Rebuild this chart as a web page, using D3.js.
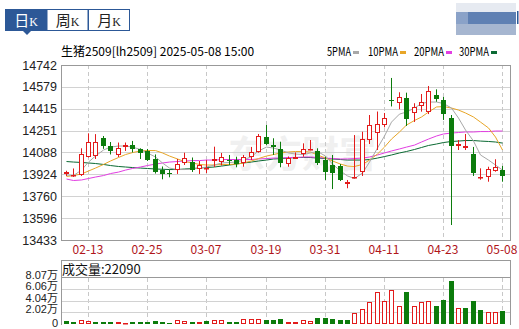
<!DOCTYPE html>
<html>
<head>
<meta charset="utf-8">
<script src="https://cdn.jsdelivr.net/npm/d3@7/dist/d3.min.js"></script>
<style>
  body { margin: 0; background: #fff; }
  svg { display: block; }
  text { font-family: "Noto Sans CJK SC", "DejaVu Sans", sans-serif; }
</style>
</head>
<body>
<svg id="chart" width="519" height="329"></svg>
<script>
// trading days shown on the chart
var dates = ["02-10","02-11","02-12","02-13","02-14","02-17","02-18","02-19","02-20","02-21","02-24","02-25","02-26","02-27","02-28",
  "03-03","03-04","03-05","03-06","03-07","03-10","03-11","03-12","03-13","03-14","03-17","03-18","03-19","03-20","03-21","03-24","03-25","03-26","03-27","03-28","03-31",
  "04-01","04-02","04-03","04-07","04-08","04-09","04-10","04-11","04-14","04-15","04-16","04-17","04-18","04-21","04-22","04-23","04-24","04-25","04-28","04-29","04-30",
  "05-06","05-07","05-08"];
var xLabels = ["02-13","02-25","03-07","03-19","03-31","04-11","04-23","05-08"];

var open  = [13924,13915,13919,14056,14061,14196,14136,14069,14129,14144,14110,14095,14039,13957,13934,13953,14007,14013,13962,13965,
  14024,14019,14035,14031,14007,14052,14093,14206,14141,14111,13999,14041,14076,14106,14096,14031,13994,13987,13850,13894,
  13942,14181,14231,14293,14480,14456,14493,14383,14433,14393,14518,14480,14343,14138,14121,14076,13894,13902,13951,13957];
var high  = [13951,13968,14119,14231,14225,14211,14166,14162,14162,14174,14119,14114,14073,13983,13960,14039,14086,14050,14024,14031,
  14131,14084,14069,14056,14069,14129,14226,14293,14194,14168,14058,14088,14156,14181,14119,14056,14069,14001,13882,14218,
  14243,14368,14394,14383,14645,14538,14535,14456,14525,14585,14560,14503,14368,14181,14226,14129,13969,13981,14037,13987];
var low   = [13912,13905,13912,14050,14039,14115,14073,14054,14099,14088,14039,14024,13930,13887,13902,13927,13994,13942,13927,13934,
  13979,13990,13994,13977,13981,14031,14086,14144,14069,13977,13981,14039,14056,14104,13994,13882,13814,13874,13820,13893,
  13912,14151,14106,14276,14432,14411,14286,14316,14393,14375,14467,14331,13545,14106,14106,13912,13884,13869,13944,13869];
var close = [13939,13920,14076,14164,14164,14138,14099,14121,14144,14114,14082,14035,13939,13927,13924,13998,14043,13957,13994,13970,
  14037,14054,14024,14001,14052,14089,14211,14151,14131,14007,14044,14052,14111,14116,14007,13944,13934,13882,13869,13902,
  14186,14293,14301,14343,14473,14505,14336,14430,14463,14550,14488,14373,14138,14149,14136,13936,13902,13962,13977,13914];
var prevClose0 = 13950;
var volume = [5700,4000,7500,5200,3500,4000,3500,3500,2300,3500,3500,3500,5700,4000,2300,7000,5700,3500,3500,4600,
  7500,7000,3500,3500,8000,8000,8000,7500,7500,9200,4000,4000,7500,5700,11000,11000,9200,6300,7500,19100,
  26100,37600,56200,40500,59600,31800,56200,31800,37600,40500,30600,42300,74100,28300,28300,40500,23700,21400,21400,22090];

var ma5  = [13919,13915,13956,14016,14061,14106,14128,14136,14136,14128,14110,14084,14054,14009,13971,13960,13960,13964,13971,13979,
  13994,14009,14013,14016,14031,14057,14099,14128,14121,14106,14084,14076,14072,14084,14095,14061,14001,13949,13912,13893,
  13934,14016,14121,14211,14315,14375,14390,14420,14454,14465,14465,14454,14420,14345,14256,14173,14069,14031,13994,13956];
var ma10 = [13908,13915,13927,13949,13971,13998,14024,14050,14072,14087,14099,14102,14102,14084,14061,14039,14020,14009,13998,13994,
  13994,13998,13998,14001,14009,14024,14042,14061,14072,14084,14091,14095,14095,14091,14069,14046,14024,14001,13986,13983,
  13998,14031,14076,14128,14188,14241,14293,14327,14353,14390,14428,14431,14420,14405,14383,14353,14315,14271,14203,14106];
var ma20 = [13889,13878,13882,13893,13904,13915,13930,13941,13956,13968,13979,13990,14001,14009,14016,14020,14024,14027,14027,14031,
  14031,14035,14035,14035,14035,14035,14039,14042,14046,14046,14050,14050,14054,14054,14050,14046,14042,14039,14039,14042,
  14046,14054,14069,14084,14099,14114,14128,14143,14166,14188,14211,14226,14233,14237,14241,14241,14244,14244,14248,14248];
var ma30 = [14020,14016,14013,14009,14005,13998,13990,13983,13979,13975,13971,13968,13964,13962,13960,13960,13964,13968,13971,13975,
  13979,13986,13994,14001,14009,14016,14024,14031,14039,14042,14046,14050,14050,14050,14046,14042,14039,14035,14031,14031,
  14031,14035,14046,14057,14069,14084,14095,14110,14125,14140,14151,14162,14170,14173,14177,14177,14173,14170,14166,14158];

var priceTicks = [13433,13596,13760,13924,14088,14251,14415,14579,14742];
var volTicks = [0,20200,40400,60600,80700];
var volTickLabels = ["0","2.02万","4.04万","6.06万","8.07万"];

var maNames = ["5PMA","10PMA","20PMA","30PMA"];
var maColors = ["#a8a8a8","#e8a628","#e23ee2","#0b6a33"];
var upColor = "#e21b1b", downColor = "#0c7c0c";

(function() {
var svg = d3.select("#chart");

// ----- tabs top left
var tabs = ["日","周","月"];
var tabG = svg.append("g");
tabs.forEach(function(t, i) {
	var x0 = 5 + i * 41.5;
	tabG.append("rect")
		.attr("x", x0 + 0.5).attr("y", 9.5).attr("width", 41).attr("height", 21)
		.attr("fill", i == 0 ? "#2c5897" : "#fff")
		.attr("stroke", "#2c5897");
	var tx = tabG.append("text")
		.attr("x", x0 + 21).attr("y", 25.5)
		.attr("text-anchor", "middle")
		.attr("fill", i == 0 ? "#fff" : "#222");
	tx.append("tspan").style("font-size", "15px").text(t);
	tx.append("tspan").style("font-size", "12px").style("font-family", "Liberation Serif").text("K");
});
tabG.append("path").attr("d", "M23,31 L31,31 L27,35 Z").attr("fill", "#2c5897");

// blurred banner top right
var ban = svg.append("g");
ban.append("rect").attr("x", 456).attr("y", 3).attr("width", 60).attr("height", 9).attr("fill", "#e6eaf1");
ban.append("rect").attr("x", 456).attr("y", 12).attr("width", 60).attr("height", 12).attr("fill", "#5f80b3");
ban.append("rect").attr("x", 456).attr("y", 12).attr("width", 12).attr("height", 12).attr("fill", "#8aa2c8");
ban.append("rect").attr("x", 456).attr("y", 24).attr("width", 60).attr("height", 11).attr("fill", "#a6b6d0");
ban.append("rect").attr("x", 517).attr("y", 11).attr("width", 1.5).attr("height", 13).attr("fill", "#2c5897");

// ----- header row
svg.append("text").attr("x", 61).attr("y", 56)
	.style("font-size", "12px")
	.text("生猪2509[lh2509] 2025-05-08 15:00");

var legX = [327, 368, 414, 459];
maNames.forEach(function(n, i) {
	svg.append("text").attr("x", legX[i]).attr("y", 56)
		.style("font-size", "12px").attr("textLength", n.length * 6)
		.attr("lengthAdjust", "spacingAndGlyphs")
		.text(n);
	var w = n.length * 6;
	svg.append("rect").attr("x", legX[i] + w + 2).attr("y", 51).attr("width", 6).attr("height", 3).attr("fill", maColors[i]);
});

// ----- scales
var pLeft = 61, pRight = 510, pTop = 65, pBottom = 240;
var x = d3.scaleBand().domain(dates).range([62, 506]);
function cx(d) { return Math.round(x(d) + x.bandwidth() / 2); }
var y = d3.scaleLinear().domain([13433, 14742]).range([pBottom, pTop]);
var vy = d3.scaleLinear().domain([0, 80700]).range([324, 277.5]);

// watermark
svg.append("text").attr("x", 228).attr("y", 168)
	.style("font-size", "37px").style("font-weight", "bold")
	.attr("fill", "#f0f0f0").text("东方财富");

// price grid
svg.selectAll(".hgrid").data(priceTicks.slice(1, -1)).enter().append("line")
	.attr("x1", pLeft).attr("x2", pRight)
	.attr("y1", function(d) { return Math.round(y(d)) + 0.5; })
	.attr("y2", function(d) { return Math.round(y(d)) + 0.5; })
	.attr("stroke", "#d2d2d2");

// dashed verticals (main + volume)
xLabels.forEach(function(l) {
	var xx = cx(l) + 0.5;
	svg.append("line").attr("x1", xx).attr("x2", xx).attr("y1", pTop).attr("y2", pBottom)
		.attr("stroke", "#c8c8c8").attr("stroke-dasharray", "4,3");
	svg.append("line").attr("x1", xx).attr("x2", xx).attr("y1", 278).attr("y2", 324)
		.attr("stroke", "#c8c8c8").attr("stroke-dasharray", "4,3");
});

svg.append("rect").attr("x", pLeft + 0.5).attr("y", pTop + 0.5)
	.attr("width", pRight - pLeft).attr("height", pBottom - pTop)
	.attr("fill", "none").attr("stroke", "#999");

// price tick labels
svg.selectAll(".ylab").data(priceTicks).enter().append("text")
	.attr("x", 57).attr("y", function(d) { return y(d) + 4.5; })
	.attr("text-anchor", "end")
	.style("font-family", "Liberation Sans, Arial, sans-serif")
	.style("font-size", "12.5px").attr("fill", "#222")
	.text(function(d) { return d; });

// x labels
svg.selectAll(".xlab").data(xLabels).enter().append("text")
	.attr("x", function(d) { return cx(d); }).attr("y", 254)
	.attr("text-anchor", "middle")
	.style("font-size", "12px").attr("fill", "#b0151a")
	.text(function(d) { return d; });

// ----- moving averages
var maData = [ma5, ma10, ma20, ma30];
var line = d3.line()
	.x(function(d, i) { return cx(dates[i]) + 0.5; })
	.y(function(d) { return y(d); });
for (var k = 3; k >= 0; k--) {
	svg.append("path").attr("d", line(maData[k]))
		.attr("fill", "none").attr("stroke", maColors[k]).attr("stroke-width", 1);
}

// ----- candles
var candles = svg.append("g");
dates.forEach(function(d, i) {
	var c = cx(d);
	var up = close[i] >= open[i];
	var col = up ? upColor : downColor;
	candles.append("line")
		.attr("x1", c + 0.5).attr("x2", c + 0.5)
		.attr("y1", y(high[i])).attr("y2", y(low[i]))
		.attr("stroke", col);
	var yt = Math.round(y(Math.max(open[i], close[i])));
	var yb = Math.round(y(Math.min(open[i], close[i])));
	if (yb - yt < 1) yb = yt + 1;
	if (up) {
		candles.append("rect")
			.attr("x", c - 1.5).attr("y", yt + 0.5)
			.attr("width", 4).attr("height", Math.max(yb - yt - 1, 0.5))
			.attr("fill", "#fff").attr("stroke", col);
	} else {
		candles.append("rect")
			.attr("x", c - 2).attr("y", yt)
			.attr("width", 5).attr("height", yb - yt)
			.attr("fill", col);
	}
});

// ----- volume panel
svg.append("rect").attr("x", pLeft + 0.5).attr("y", 260.5)
	.attr("width", pRight - pLeft).attr("height", 17)
	.attr("fill", "none").attr("stroke", "#999");
svg.append("text").attr("x", 62).attr("y", 274)
	.style("font-size", "13px").attr("fill", "#111")
	.text("成交量:" + volume[volume.length - 1]);

svg.selectAll(".vgrid").data(volTicks.slice(1, -1)).enter().append("line")
	.attr("x1", pLeft).attr("x2", pRight)
	.attr("y1", function(d) { return Math.round(vy(d)) + 0.5; })
	.attr("y2", function(d) { return Math.round(vy(d)) + 0.5; })
	.attr("stroke", "#d2d2d2");
svg.append("line").attr("x1", pLeft + 0.5).attr("x2", pLeft + 0.5).attr("y1", 277.5).attr("y2", 325)
	.attr("stroke", "#999");
svg.append("line").attr("x1", pRight + 0.5).attr("x2", pRight + 0.5).attr("y1", 277.5).attr("y2", 325)
	.attr("stroke", "#999");

svg.selectAll(".vlab").data(volTicks).enter().append("text")
	.attr("x", 58).attr("y", function(d, i) { return i == 0 ? 327 : vy(d) + 1; })
	.attr("text-anchor", "end")
	.style("font-family", "Liberation Sans, 'Noto Sans CJK SC', sans-serif")
	.style("font-size", "11px").attr("fill", "#222")
	.text(function(d, i) { return volTickLabels[i]; });

var vols = svg.append("g");
dates.forEach(function(d, i) {
	var c = cx(d);
	var pc = i == 0 ? prevClose0 : close[i - 1];
	var up = close[i] > pc;
	var col = up ? upColor : downColor;
	var yt = Math.round(vy(volume[i]));
	var yb = 324;
	if (up) {
		vols.append("rect")
			.attr("x", c - 1.5).attr("y", yt + 0.5)
			.attr("width", 4).attr("height", Math.max(yb - yt - 1, 0.5))
			.attr("fill", "#fff").attr("stroke", col);
	} else {
		vols.append("rect")
			.attr("x", c - 2).attr("y", yt)
			.attr("width", 5).attr("height", yb - yt)
			.attr("fill", col);
	}
});
})();
</script>
</body>
</html>
